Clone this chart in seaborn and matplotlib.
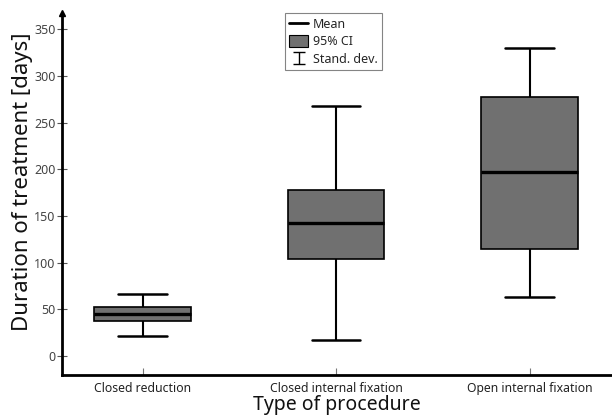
import numpy as np
import pandas as pd
import matplotlib
matplotlib.use("Agg")
import matplotlib.pyplot as plt
import seaborn as sns
from matplotlib.lines import Line2D
from matplotlib.patches import Patch

# Data
categories = ["Closed reduction", "Closed internal fixation", "Open internal fixation"]
sd_low = [21, 17, 63]       # lower end of standard deviation bar
ci_low = [37, 104, 115]     # lower bound of 95% CI
means = [45, 142, 197]      # mean
ci_high = [52, 178, 278]    # upper bound of 95% CI
sd_high = [66, 268, 330]    # upper end of standard deviation bar
y_ticks = [0, 50, 100, 150, 200, 250, 300, 350]

# five values per group -> with whis=(0,100) seaborn box reproduces them exactly
rows = []
for c, a, b, m, d, e in zip(categories, sd_low, ci_low, means, ci_high, sd_high):
    for v in (a, b, m, d, e):
        rows.append({"procedure": c, "days": v})
df = pd.DataFrame(rows)

sns.set_theme(style="white")
plt.rcParams["font.family"] = ["Noto Sans", "DejaVu Sans"]

fig = plt.figure(figsize=(6.12, 4.18), dpi=100)
ax = fig.add_axes([62 / 612, 43 / 418, 1 - 62 / 612, (375 - 13) / 418])

sns.boxplot(
    data=df, x="procedure", y="days", order=categories, ax=ax,
    whis=(0, 100), width=0.5, color="#707070", saturation=1,
    boxprops=dict(facecolor="#707070", edgecolor="black", linewidth=1.2),
    medianprops=dict(color="black", linewidth=2.4),
    whiskerprops=dict(color="black", linewidth=1.5),
    capprops=dict(color="black", linewidth=1.8),
    showfliers=False,
)

ax.set_xlim(-0.4165, 2.426)
ax.set_ylim(-20.4, 367.5)
ax.set_yticks(y_ticks)
ax.set_yticklabels([str(t) for t in y_ticks])

for s in ["top", "right"]:
    ax.spines[s].set_visible(False)
for s in ["left", "bottom"]:
    ax.spines[s].set_color("black")
    ax.spines[s].set_linewidth(2.0)

ax.tick_params(axis="y", direction="inout", length=7, width=0.8, color="#555555",
               labelsize=9, labelcolor="#444444", pad=1, left=True)
ax.tick_params(axis="x", direction="in", length=5, width=0.8, color="#777777",
               labelsize=8.8, labelcolor="#222222", pad=5, bottom=True)

ax.set_ylabel("Duration of treatment [days]", fontsize=16, color="#111111", labelpad=0)
ax.yaxis.set_label_coords(-0.053, 0.535)
ax.set_xlabel("Type of procedure", fontsize=14, color="#111111", labelpad=0)

# arrow head on top of y axis
ax.plot(0, 1, marker="^", color="black", markersize=5, transform=ax.transAxes, clip_on=False)

# legend
h_mean = Line2D([], [], color="black", linewidth=2)
h_ci = Patch(facecolor="#707070", edgecolor="black", linewidth=0.8)
h_sd = ax.errorbar([np.nan], [np.nan], yerr=[[np.nan]], fmt="none", ecolor="black",
                   elinewidth=1.0, capsize=4)
leg = ax.legend([h_mean, h_ci, h_sd], ["Mean", "95% CI", "Stand. dev."],
                loc="upper left", bbox_to_anchor=((285 - 62) / 550, 1.0),
                frameon=True, fancybox=False, fontsize=9, handlelength=1.5,
                handleheight=1.1, handletextpad=0.4, borderpad=0.35,
                labelspacing=0.35, borderaxespad=0)
leg.get_frame().set_edgecolor("#666666")
leg.get_frame().set_linewidth(0.8)

fig.savefig("out.png", dpi=100)
